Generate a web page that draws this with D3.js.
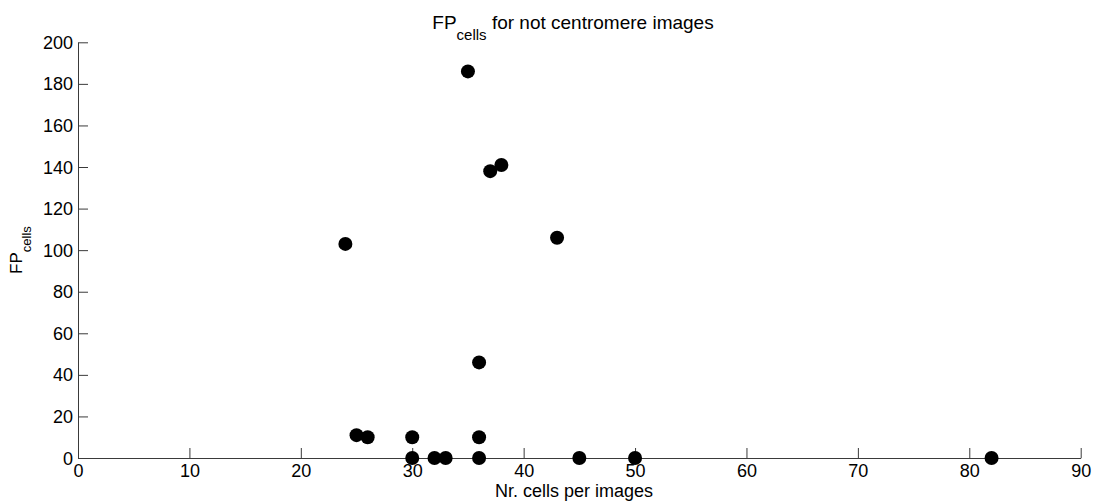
<!DOCTYPE html>
<html>
<head>
<meta charset="utf-8">
<script src="https://cdn.jsdelivr.net/npm/d3@7"></script>
<style>
  html, body { margin: 0; padding: 0; background: #ffffff; }
  svg { display: block; font-family: "Liberation Sans", Arial, Helvetica, sans-serif; }
</style>
</head>
<body>
<svg id="chart" width="1093" height="501"></svg>
<script>
// Cells per image (x) and false-positive cell count (y) for each image
const cellsPerImage = [24, 25, 26, 30, 30, 32, 33, 35, 36, 36, 36, 37, 38, 43, 45, 50, 82];
const fpCells       = [103, 11, 10, 10, 0, 0, 0, 186, 46, 10, 0, 138, 141, 106, 0, 0, 0];

const xTicks = [0, 10, 20, 30, 40, 50, 60, 70, 80, 90];
const yTicks = [0, 20, 40, 60, 80, 100, 120, 140, 160, 180, 200];

const svg = d3.select("#chart");
const W = 1093, H = 501;
const plotLeft = 78, plotRight = 1080.7, plotTop = 42.3, plotBottom = 458;

const x = d3.scaleLinear().domain([0, 90]).range([plotLeft, plotRight]);
const y = d3.scaleLinear().domain([0, 200]).range([plotBottom, plotTop]);

svg.append("rect").attr("width", W).attr("height", H).attr("fill", "#ffffff");

const axisColor = "#3a3a3a";

// x axis with inward ticks
const gx = svg.append("g").attr("transform", `translate(0,${plotBottom})`)
  .call(d3.axisBottom(x).tickValues(xTicks).tickSize(-10).tickSizeOuter(0).tickPadding(0).tickFormat(d3.format("d")));
gx.select(".domain").attr("stroke", axisColor).attr("stroke-width", 1);
gx.selectAll(".tick line").attr("stroke", axisColor);
gx.selectAll(".tick text")
  .attr("y", 18.5).attr("dy", null)
  .attr("font-size", 18).attr("fill", "#000")
  .attr("font-family", "Liberation Sans, Arial, sans-serif");

// y axis with inward ticks
const gy = svg.append("g").attr("transform", `translate(${plotLeft},0)`)
  .call(d3.axisLeft(y).tickValues(yTicks).tickSize(-10).tickSizeOuter(0).tickPadding(0).tickFormat(d3.format("d")));
gy.select(".domain").attr("stroke", axisColor).attr("stroke-width", 1);
gy.selectAll(".tick line").attr("stroke", axisColor);
gy.selectAll(".tick text")
  .attr("x", -5).attr("dy", "0.34em")
  .attr("font-size", 18).attr("fill", "#000")
  .attr("font-family", "Liberation Sans, Arial, sans-serif");

// data points
svg.append("g").selectAll("circle")
  .data(cellsPerImage.map((c, i) => ({ c, fp: fpCells[i] })))
  .join("circle")
  .attr("cx", d => x(d.c))
  .attr("cy", d => y(d.fp))
  .attr("r", 7)
  .attr("fill", "#000");

// title with subscript
const title = svg.append("text")
  .attr("x", 573).attr("y", 29)
  .attr("text-anchor", "middle")
  .attr("font-size", 19).attr("fill", "#000");
title.append("tspan").text("FP");
title.append("tspan").attr("font-size", 15).attr("dy", 11).text("cells");
title.append("tspan").attr("dy", -11).text(" for not centromere images");

// x axis label
svg.append("text")
  .attr("x", 574).attr("y", 497)
  .attr("text-anchor", "middle")
  .attr("font-size", 18).attr("fill", "#000")
  .text("Nr. cells per images");

// y axis label with subscript
const yl = svg.append("text")
  .attr("transform", `translate(22,250) rotate(-90)`)
  .attr("text-anchor", "middle")
  .attr("font-size", 17).attr("fill", "#000");
yl.append("tspan").text("FP");
yl.append("tspan").attr("font-size", 13).attr("dy", 9).text("cells");
</script>
</body>
</html>
